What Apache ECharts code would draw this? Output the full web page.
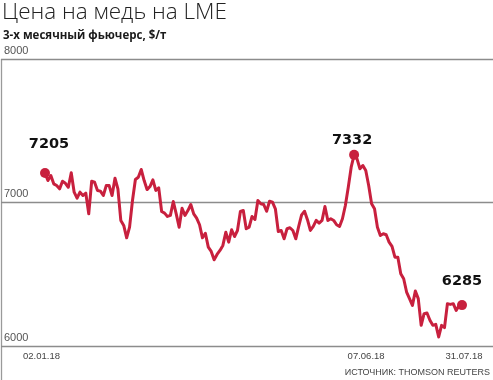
<!DOCTYPE html>
<html><head><meta charset="utf-8">
<script src="https://cdn.jsdelivr.net/npm/echarts@6/dist/echarts.min.js"></script>
<style>html,body{margin:0;padding:0;background:#fff}#c{width:493px;height:380px}</style>
</head><body><div id="c"></div>
<script>
// 3-month LME copper futures, USD/t
const prices = [
 7205,7153,7188,7130,7118,7095,7148,7134,7106,7207,
 7072,7030,7072,7049,7065,6921,7148,7141,7084,7079,
 7049,7118,7118,7049,7169,7095,6875,6840,6754,6828,
 7014,7160,7176,7230,7153,7090,7111,7158,7084,7102,
 6937,6926,6903,6910,7007,6921,6828,6960,6910,6944,
 6986,6921,6891,6845,6754,6786,6689,6659,6601,6638,
 6666,6701,6793,6724,6810,6763,6805,6937,6944,6817,
 6828,6903,6882,7014,6991,6986,6939,7009,7002,6956,
 6798,6805,6747,6817,6824,6805,6747,6833,6914,6939,
 6880,6805,6833,6875,6856,6875,6972,6875,6887,6875,
 6845,6833,6887,6979,7106,7246,7332,7304,7235,7258,
 7223,7118,6991,6956,6828,6770,6782,6775,6724,6694,
 6619,6619,6504,6469,6376,6330,6283,6383,6330,6144,
 6225,6230,6179,6144,6151,6063,6144,6128,6295,6290,
 6295,6248,6283,6285
];
const yTicks = [6000, 7000, 8000];
const tickLabels = ['02.01.18', '07.06.18', '31.07.18'];
const tickIndex = [0, 106, 143];
const markIndex = [0, 106, 143];

const categories = prices.map((v, i) => {
  const k = tickIndex.indexOf(i);
  return k >= 0 ? tickLabels[k] : '';
});
const RED = '#C8203E';
const labelOffsets = [[4, -29], [-2, -15], [0, -24]];
const marks = markIndex.map((idx, k) => ({
  value: [idx, prices[idx]],
  label: { offset: labelOffsets[k] }
}));

const chart = echarts.init(document.getElementById('c'), null, { renderer: 'canvas' });
chart.setOption({
  animation: false,
  backgroundColor: '#fff',
  title: [
    { text: 'Цена на медь на LME', left: 2, top: 1, padding: 0,
      textStyle: { fontFamily: 'Open Sans', fontWeight: 300, fontSize: 22.5, color: '#222' } },
    { text: '3-х месячный фьючерс, $/т', left: 3, top: 30, padding: 0,
      textStyle: { fontFamily: 'Open Sans', fontWeight: 'bold', fontSize: 11.5, color: '#1a1a1a' } },
    { text: 'ИСТОЧНИК: THOMSON REUTERS', right: 3, top: 368, padding: 0,
      textStyle: { fontFamily: 'Liberation Sans', fontWeight: 'normal', fontSize: 9, color: '#444' } }
  ],
  grid: [
    { left: 1, right: 0, top: 59, bottom: 34 },
    { left: 45, right: 31, top: 59, bottom: 34 }
  ],
  xAxis: [
    { gridIndex: 0, type: 'value', show: false, min: 0, max: 1 },
    { gridIndex: 1, type: 'category', data: categories, boundaryGap: false,
      axisLine: { show: false }, axisTick: { show: false }, splitLine: { show: false },
      axisLabel: {
        interval: (i) => tickIndex.indexOf(i) >= 0,
        showMinLabel: true, showMaxLabel: true,
        margin: 5,
        formatter: (v, i) => {
          const k = tickIndex.indexOf(i);
          return k >= 0 ? '{l' + k + '|' + v + '}' : '';
        },
        rich: {
          l0: { fontFamily: 'Liberation Sans', fontSize: 9.5, color: '#444', padding: [0, 7, 0, 0] },
          l1: { fontFamily: 'Liberation Sans', fontSize: 9.5, color: '#444', padding: [0, 0, 0, 24] },
          l2: { fontFamily: 'Liberation Sans', fontSize: 9.5, color: '#444', padding: [0, 0, 0, 4] }
        }
      } }
  ],
  yAxis: [
    { gridIndex: 0, type: 'value', min: yTicks[0], max: yTicks[yTicks.length - 1], interval: 1000,
      axisLine: { show: false }, axisTick: { show: false },
      splitLine: { show: true, lineStyle: { color: '#8c8c8c', width: 1.3 } },
      axisLabel: { inside: true, margin: 3, verticalAlign: 'bottom', padding: [0, 0, 3, 0],
        formatter: (v) => String(v),
        fontFamily: 'Liberation Sans', fontSize: 11, color: '#555' } },
    { gridIndex: 1, type: 'value', min: yTicks[0], max: yTicks[yTicks.length - 1], interval: 1000,
      show: false }
  ],
  graphic: [
    { type: 'line', silent: true, shape: { x1: 1.5, y1: 59, x2: 1.5, y2: 380 },
      style: { stroke: '#9a9a9a', lineWidth: 1.3 } }
  ],
  series: [
    { type: 'line', xAxisIndex: 1, yAxisIndex: 1, data: prices, showSymbol: false,
      lineStyle: { color: RED, width: 3, join: 'round', cap: 'round' }, z: 3 },
    { type: 'scatter', xAxisIndex: 1, yAxisIndex: 1, data: marks, symbol: 'circle', symbolSize: 10,
      itemStyle: { color: RED, opacity: 1 }, z: 4,
      label: { show: true, position: 'inside', formatter: (p) => p.value[1],
        fontFamily: 'DejaVu Sans', fontWeight: 'bold', fontSize: 14.5, color: '#111' } }
  ]
});
</script>
</body></html>
